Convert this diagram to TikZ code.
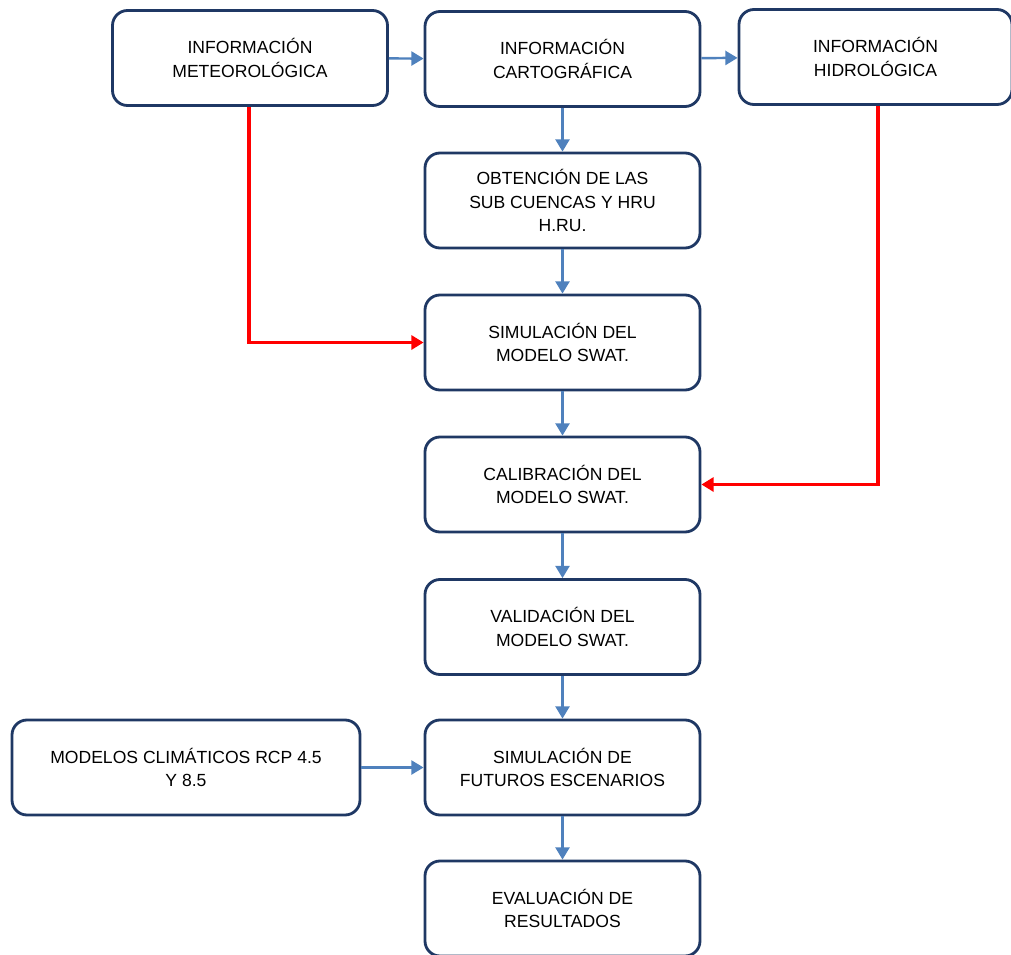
\documentclass[tikz,border=0pt]{standalone}
\usepackage{fontspec}
\setmainfont{Liberation Sans}
\usepackage{tikz}
\usetikzlibrary{arrows.meta}

\definecolor{borde}{HTML}{1F3864}
\definecolor{azul}{HTML}{4F81BD}
\definecolor{rojo}{HTML}{FF0000}

\tikzset{
	caja/.style={draw=borde, line width=1.6pt, rounded corners=0.3cm, minimum width=5.5cm, minimum height=1.9cm, align=center, font=\fontsize{10}{13.5}\selectfont},
	flecha/.style={draw=azul, line width=1.4pt, -{Triangle[length=7pt,width=8pt]}},
	roja/.style={draw=rojo, line width=2.2pt, -{Triangle[length=7pt,width=8pt]}}
}

\begin{document}
\begin{tikzpicture}
	\useasboundingbox (0,0) rectangle (20.22,-19.1);
	\node[caja] (met) at (5,-1.16) {INFORMACIÓN\\METEOROLÓGICA};
	\node[caja] (cart) at (11.25,-1.18) {INFORMACIÓN\\CARTOGRÁFICA};
	\node[caja, minimum width=5.46cm] (hidro) at (17.51,-1.14) {INFORMACIÓN\\HIDROLÓGICA};
	\node[caja] (obt) at (11.25,-4.01) {OBTENCIÓN DE LAS\\SUB CUENCAS Y HRU\\H.RU.};
	\node[caja] (sim) at (11.25,-6.85) {SIMULACIÓN DEL\\MODELO SWAT.};
	\node[caja] (cal) at (11.25,-9.69) {CALIBRACIÓN DEL\\MODELO SWAT.};
	\node[caja] (val) at (11.25,-12.54) {VALIDACIÓN DEL\\MODELO SWAT.};
	\node[caja] (fut) at (11.25,-15.35) {SIMULACIÓN DE\\FUTUROS ESCENARIOS};
	\node[caja] (eval) at (11.25,-18.17) {EVALUACIÓN DE\\RESULTADOS};
	\node[caja, minimum width=6.96cm] (mod) at (3.72,-15.35) {MODELOS CLIMÁTICOS RCP 4.5\\Y 8.5};

	\draw[flecha] (met) -- (cart);
	\draw[flecha] (cart) -- (hidro);
	\draw[flecha] (cart) -- (obt);
	\draw[flecha] (obt) -- (sim);
	\draw[flecha] (sim) -- (cal);
	\draw[flecha] (cal) -- (val);
	\draw[flecha] (val) -- (fut);
	\draw[flecha] (fut) -- (eval);
	\draw[flecha] (mod) -- (fut);

	\draw[roja] ([xshift=-0.02cm]met.south) |- (sim.west);
	\draw[roja] ([xshift=0.05cm]hidro.south) |- (cal.east);
\end{tikzpicture}
\end{document}
